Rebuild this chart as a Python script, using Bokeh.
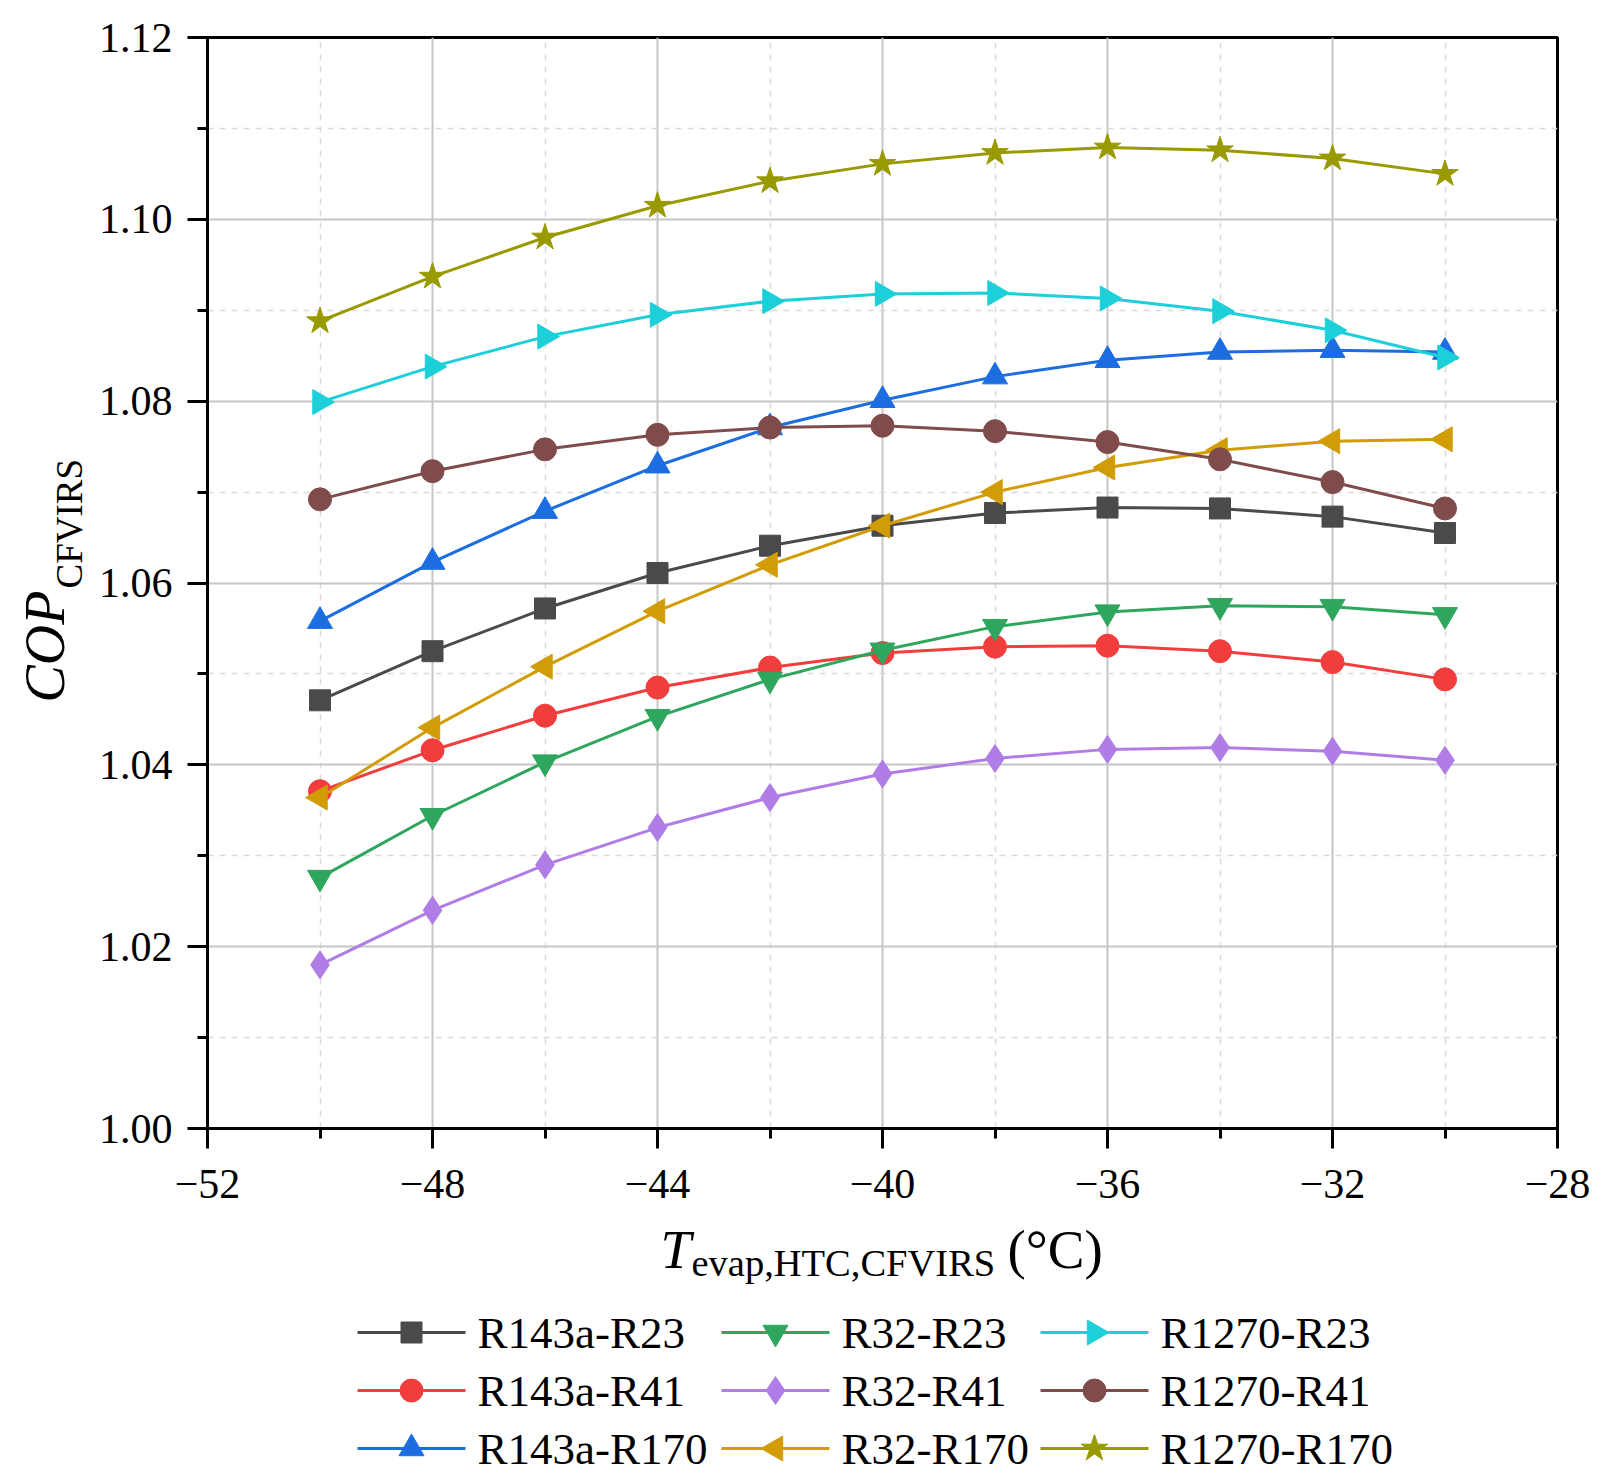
import numpy as np
from bokeh.plotting import figure
from bokeh.layouts import row, column
from bokeh.models import (Label, FixedTicker, NumeralTickFormatter,
                          CustomJSTickFormatter, Range1d, ColumnDataSource)
from bokeh.core.properties import value
from bokeh.embed import file_html
from bokeh.resources import INLINE

FONT = "Liberation Serif"

# ---------------- data ----------------
temps = [-50, -48, -46, -44, -42, -40, -38, -36, -34, -32, -30]

r143a_r23 = [1.0471, 1.0525, 1.0572, 1.0611, 1.0641, 1.0663, 1.0677, 1.0683, 1.0682, 1.0673, 1.0655]
r143a_r41 = [1.0371, 1.0416, 1.0454, 1.0485, 1.0507, 1.0523, 1.0530, 1.0531, 1.0525, 1.0513, 1.0494]
r143a_r170 = [1.0558, 1.0623, 1.0679, 1.0729, 1.0771, 1.0801, 1.0827, 1.0845, 1.0854, 1.0856, 1.0854]
r32_r23 = [1.0276, 1.0344, 1.0403, 1.0453, 1.0494, 1.0526, 1.0552, 1.0568, 1.0575, 1.0574, 1.0565]
r32_r41 = [1.0180, 1.0240, 1.0290, 1.0331, 1.0364, 1.0390, 1.0407, 1.0417, 1.0419, 1.0415, 1.0405]
r32_r170 = [1.0364, 1.0441, 1.0508, 1.0569, 1.0620, 1.0663, 1.0700, 1.0727, 1.0746, 1.0756, 1.0758]
r1270_r23 = [1.0799, 1.0838, 1.0871, 1.0895, 1.0910, 1.0918, 1.0919, 1.0913, 1.0899, 1.0878, 1.0848]
r1270_r41 = [1.0692, 1.0723, 1.0747, 1.0763, 1.0771, 1.0773, 1.0767, 1.0755, 1.0736, 1.0711, 1.0682]
r1270_r170 = [1.0888, 1.0937, 1.0980, 1.1015, 1.1042, 1.1061, 1.1073, 1.1079, 1.1076, 1.1067, 1.1050]

series_names = ["R143a-R23", "R143a-R41", "R143a-R170",
                "R32-R23", "R32-R41", "R32-R170",
                "R1270-R23", "R1270-R41", "R1270-R170"]
series_values = [r143a_r23, r143a_r41, r143a_r170,
                 r32_r23, r32_r41, r32_r170,
                 r1270_r23, r1270_r41, r1270_r170]

x_ticks = [-52, -48, -44, -40, -36, -32, -28]
x_minor_ticks = [-50, -46, -42, -38, -34, -30]
y_ticks = [1.00, 1.02, 1.04, 1.06, 1.08, 1.10, 1.12]
y_minor_ticks = [1.01, 1.03, 1.05, 1.07, 1.09, 1.11]

x_title_main, x_title_sub, x_title_unit = "T", "evap,HTC,CFVIRS", "(°C)"
y_title_main, y_title_sub = "COP", "CFVIRS"

# ---------------- styles ----------------
colors = ["#4a4a4a", "#f23d3d", "#1c6ee0",
          "#2fa65e", "#b07de6", "#d29c06",
          "#1ccfd8", "#7f4b4b", "#999900"]
markers = ["square", "circle", "triangle",
           "inverted_triangle", "diamond", "triangle",
           "triangle", "circle", "star"]
angles = [0, 0, 0, 0, 0, np.pi / 2, -np.pi / 2, 0, 0]
sizes = [21, 23, 25, 25, 28, 25, 25, 23, 28]

YT_W = 95          # width of the y-title strip
MAIN_W = 1505      # main figure width
MAIN_H = 1218      # main figure height
BT_H = 260         # bottom strip (x title + legend) height
FRAME_W = 1350     # plot frame width (bottom strip frame is aligned to it)

# legend layout (pixels inside the bottom strip frame)
LEG_COL_X = [150, 514, 833]
LEG_ROW_Y = [146, 88, 30]
LEG_GLYPH_W = 108
LEG_STANDOFF = 12


def bare_figure(w, h, xr, yr):
    f = figure(width=w, height=h, x_range=Range1d(0, xr), y_range=Range1d(0, yr),
               x_axis_type=None, y_axis_type=None,
               output_backend="svg", toolbar_location=None,
               min_border=0)
    f.outline_line_color = None
    f.grid.visible = False
    f.background_fill_color = "white"
    f.border_fill_color = "white"
    return f


# ---------------- main chart ----------------
p = figure(width=MAIN_W, height=MAIN_H,
           x_range=Range1d(-52, -28), y_range=Range1d(1.0, 1.12),
           output_backend="svg", toolbar_location=None,
           min_border_left=112, min_border_right=43,
           min_border_top=37, min_border_bottom=90)
p.background_fill_color = "white"
p.border_fill_color = "white"
p.outline_line_color = "black"
p.outline_line_width = 3

p.xaxis.ticker = FixedTicker(ticks=x_ticks, minor_ticks=x_minor_ticks)
p.yaxis.ticker = FixedTicker(ticks=y_ticks, minor_ticks=y_minor_ticks)
p.xgrid.ticker = FixedTicker(ticks=x_ticks, minor_ticks=x_minor_ticks)
p.ygrid.ticker = FixedTicker(ticks=y_ticks, minor_ticks=y_minor_ticks)
p.xaxis.formatter = CustomJSTickFormatter(
    code="return tick < 0 ? '\u2212' + Math.abs(tick) : String(tick);")
p.yaxis.formatter = NumeralTickFormatter(format="0.00")

for ax in (p.xaxis[0], p.yaxis[0]):
    ax.axis_line_color = "black"
    ax.axis_line_width = 3
    ax.major_tick_line_color = "black"
    ax.major_tick_line_width = 3
    ax.major_tick_out = 20
    ax.major_tick_in = 0
    ax.minor_tick_line_color = "black"
    ax.minor_tick_line_width = 3
    ax.minor_tick_out = 10
    ax.minor_tick_in = 0
    ax.major_label_text_font = FONT
    ax.major_label_text_font_size = "42px"
    ax.major_label_text_color = "black"
p.xaxis.major_label_standoff = 21
p.yaxis.major_label_standoff = 15

for g in (p.xgrid[0], p.ygrid[0]):
    g.grid_line_color = "#c6c6c6"
    g.grid_line_width = 2
    g.minor_grid_line_color = "#dadada"
    g.minor_grid_line_width = 1.5
    g.minor_grid_line_dash = "6 6"

for vals, c, m, a, s in zip(series_values, colors, markers, angles, sizes):
    p.line(temps, vals, line_color=c, line_width=3)
    p.scatter(temps, vals, marker=m, size=s, angle=a,
              fill_color=c, line_color=c, line_width=1)

# ---------------- y title strip ----------------
yt = bare_figure(YT_W, MAIN_H, 1, 1)
yt.add_layout(Label(x=44, y=516, x_units="screen", y_units="screen", text=y_title_main,
                    text_font=FONT, text_font_style="italic", text_font_size="56px",
                    angle=np.pi / 2, text_align="left", text_baseline="alphabetic",
                    text_color="black"))
yt.add_layout(Label(x=69, y=630, x_units="screen", y_units="screen", text=y_title_sub,
                    text_font=FONT, text_font_size="37px",
                    angle=np.pi / 2, text_align="left", text_baseline="alphabetic",
                    text_color="black"))

# ---------------- bottom strip: x title + legend ----------------
bt = bare_figure(MAIN_W, BT_H, FRAME_W, BT_H)
bt.add_layout(Label(x=453, y=229, x_units="screen", y_units="screen", text=x_title_main,
                    text_font=FONT, text_font_style="italic", text_font_size="55px",
                    text_align="left", text_baseline="alphabetic", text_color="black"))
bt.add_layout(Label(x=484, y=216, x_units="screen", y_units="screen", text=x_title_sub,
                    text_font=FONT, text_font_size="38.5px",
                    text_align="left", text_baseline="alphabetic", text_color="black"))
bt.add_layout(Label(x=800, y=229, x_units="screen", y_units="screen", text=x_title_unit,
                    text_font=FONT, text_font_size="55px",
                    text_align="left", text_baseline="alphabetic", text_color="black"))

# legend entries: three columns, filled top to bottom
lx0, lx1, ly, mx, tx = [], [], [], [], []
for i in range(len(series_names)):
    col, rw = divmod(i, 3)
    x0 = LEG_COL_X[col]
    lx0.append(x0)
    lx1.append(x0 + LEG_GLYPH_W)
    ly.append(LEG_ROW_Y[rw])
    mx.append(x0 + LEG_GLYPH_W / 2)
    tx.append(x0 + LEG_GLYPH_W + LEG_STANDOFF)

leg_src = ColumnDataSource(dict(x0=lx0, x1=lx1, y=ly, mx=mx, tx=tx,
                                color=colors, marker=markers, angle=angles,
                                size=sizes, name=series_names))
bt.segment(x0="x0", y0="y", x1="x1", y1="y", line_color="color", line_width=3,
           source=leg_src)
bt.scatter(x="mx", y="y", marker="marker", size="size", angle="angle",
           fill_color="color", line_color="color", line_width=1, source=leg_src)
bt.text(x="tx", y="y", text="name", text_font=value(FONT), text_font_size="45px",
        text_color="black", text_baseline="middle", text_align="left", source=leg_src)

layout = row(yt, column(p, bt))
open("out.html", "w").write(file_html(layout, INLINE))
